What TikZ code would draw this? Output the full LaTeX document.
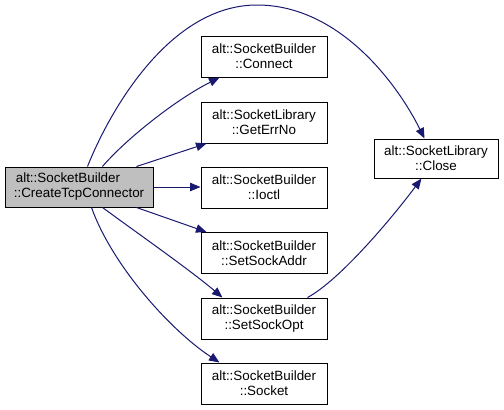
\documentclass[tikz,border=0pt]{standalone}
\usepackage{fontspec}
\setmainfont{Liberation Sans}
\usetikzlibrary{arrows.meta,calc}
\definecolor{edgeblue}{HTML}{191970}
\definecolor{srcgray}{HTML}{BFBFBF}
\tikzset{
  fnbox/.style={draw=black, line width=1pt, fill=white, inner sep=0pt, align=center,
    minimum width=126pt, minimum height=41pt,
    font=\fontsize{13.4pt}{15pt}\selectfont},
  srcbox/.style={fnbox, fill=srcgray, align=left, minimum width=148pt, minimum height=40pt},
  call/.style={draw=edgeblue, line width=1pt, -{Triangle[length=10.5pt,width=8.5pt]}}
}
\begin{document}
\begin{tikzpicture}[x=1pt,y=-1pt]
\useasboundingbox (0,0) rectangle (504,410);
\node[srcbox] (src) at (79,187) {\hspace*{2pt}alt::SocketBuilder\\::CreateTcpConnector};
\node[fnbox] (connect) at (264,56.5) {alt::SocketBuilder\\::Connect};
\node[fnbox] (geterr) at (264,122.5) {alt::SocketLibrary\\::GetErrNo};
\node[fnbox] (ioctl) at (264,187.5) {alt::SocketBuilder\\::Ioctl};
\node[fnbox] (setaddr) at (264,253) {alt::SocketBuilder\\::SetSockAddr};
\node[fnbox] (setopt) at (264,318.5) {alt::SocketBuilder\\::SetSockOpt};
\node[fnbox] (socket) at (264,383.5) {alt::SocketBuilder\\::Socket};
\node[fnbox, minimum width=124pt, minimum height=39pt] (close) at (436,158.5) {alt::SocketLibrary\\::Close};

\draw[call] ([xshift=83pt]src.north west) .. controls (110,110) and (170,5) .. (257,5)
  .. controls (340,5) and (398,85) .. ([xshift=51pt]close.north west);
\draw[call] ([xshift=98pt]src.north west) .. controls (125,140) and (175,100) .. ([xshift=19pt]connect.south west);
\draw[call] ([xshift=132pt]src.north west) -- ([xshift=6pt]geterr.south west);
\draw[call] (src.east) -- (src.east -| ioctl.west);
\draw[call] ([xshift=132pt]src.south west) -- ([xshift=6pt]setaddr.north west);
\draw[call] ([xshift=98pt]src.south west) .. controls (140,235) and (190,270) .. ([xshift=22pt]setopt.north west);
\draw[call] ([xshift=87pt]src.south west) .. controls (112,265) and (170,330) .. ([xshift=19pt]socket.north west);
\draw[call] ([xshift=107pt]setopt.north west) .. controls (340,280) and (392,218) .. ([xshift=48pt]close.south west);
\end{tikzpicture}
\end{document}
